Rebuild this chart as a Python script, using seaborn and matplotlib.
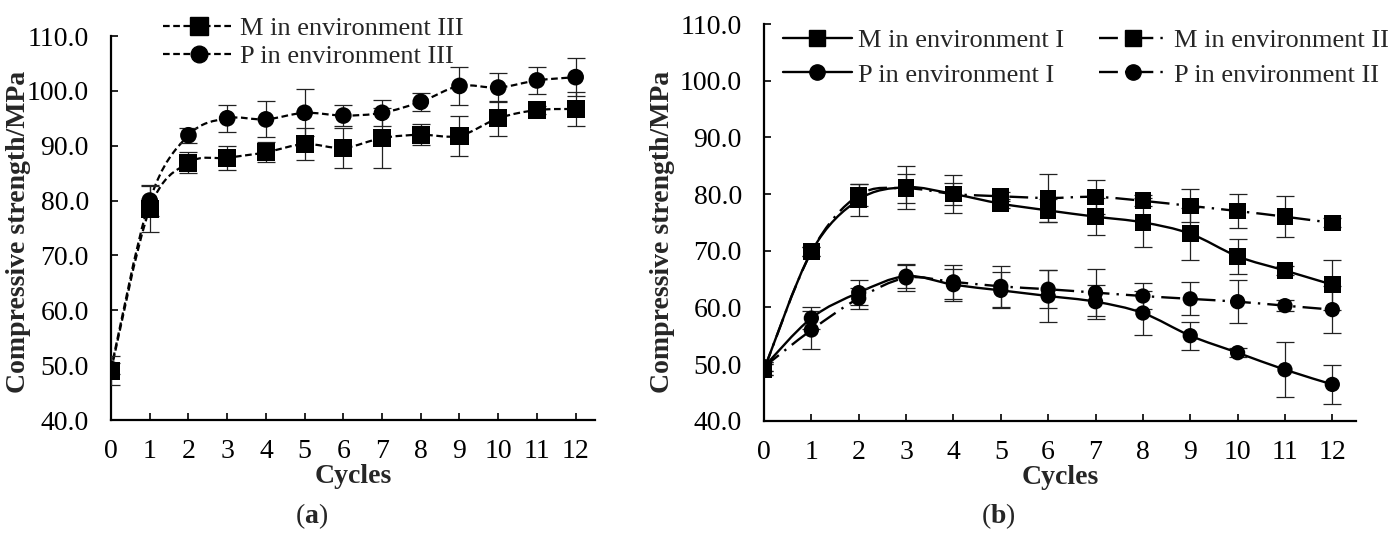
import numpy as np
import matplotlib
matplotlib.use('Agg')
import matplotlib.pyplot as plt
import seaborn as sns
from matplotlib.path import Path
from matplotlib.patches import PathPatch
from matplotlib.lines import Line2D

cycles = list(range(13))

# panel (a): environment III
m3 = [49.0, 78.5, 86.9, 87.8, 88.8, 90.3, 89.6, 91.4, 92.0, 91.8, 95.0, 96.5, 96.7]
m3_err = [2.7, 4.2, 1.9, 2.2, 1.8, 2.9, 3.6, 5.5, 1.9, 3.7, 3.2, 0.8, 3.1]
p3 = [49.3, 80.0, 91.9, 95.0, 94.8, 96.0, 95.5, 96.0, 98.0, 100.9, 100.6, 101.9, 102.5]
p3_err = [1.0, 2.9, 1.4, 2.5, 3.3, 4.3, 1.9, 2.4, 1.7, 3.5, 2.6, 2.5, 3.4]

# panel (b): environments I and II
m1 = [49.0, 69.8, 79.0, 81.2, 80.0, 78.3, 77.1, 76.0, 75.0, 73.0, 69.0, 66.5, 64.0]
m1_err = [1.0, 0.8, 2.8, 3.8, 3.3, 0.8, 2.1, 3.3, 4.3, 4.6, 3.1, 0.8, 4.4]
m2 = [49.0, 69.8, 79.8, 81.0, 80.0, 79.6, 79.3, 79.5, 78.8, 77.9, 77.0, 76.0, 74.9]
m2_err = [1.0, 0.8, 2.0, 2.5, 1.9, 0.8, 4.3, 3.0, 1.0, 2.9, 3.0, 3.6, 0.8]
p1 = [49.5, 58.1, 62.6, 65.5, 64.0, 63.0, 62.0, 61.0, 59.0, 55.0, 52.0, 49.0, 46.4]
p1_err = [0.8, 1.9, 2.2, 2.0, 2.8, 3.2, 4.6, 3.0, 3.8, 2.5, 0.8, 4.9, 3.4]
p2 = [49.5, 56.0, 61.6, 65.2, 64.5, 63.7, 63.2, 62.6, 62.0, 61.5, 61.0, 60.3, 59.6]
p2_err = [0.8, 3.4, 1.9, 2.4, 3.0, 3.6, 3.4, 4.1, 2.3, 2.9, 3.8, 1.0, 4.1]

sns.set_style('ticks')
plt.rcParams['font.family'] = ['Liberation Serif', 'DejaVu Serif']
plt.rcParams['mathtext.fontset'] = 'custom'
plt.rcParams['mathtext.rm'] = 'Liberation Serif'
plt.rcParams['mathtext.bf'] = 'Liberation Serif:bold'

FS = 20       # ticks and axis titles
FS_LEG = 19   # legend entries
DASHED = (0, (3.0, 1.6))
LONG_DASH_DOT = (0, (8, 3, 1, 3))


def smooth_path(xs, ys):
    """Excel-style smoothed line as cubic Bezier segments through the points."""
    pts = np.column_stack([xs, ys]).astype(float)
    n = len(pts)
    verts = [pts[0]]
    codes = [Path.MOVETO]
    for i in range(n - 1):
        p0 = pts[i - 1] if i > 0 else pts[i]
        p1, p2 = pts[i], pts[i + 1]
        p3 = pts[i + 2] if i + 2 < n else pts[i + 1]
        verts += [p1 + (p2 - p0) / 6, p2 - (p3 - p1) / 6, p2]
        codes += [Path.CURVE4] * 3
    return Path(verts, codes)


def draw_series(ax, y, err, marker, ms, ls, lw):
    ax.add_patch(PathPatch(smooth_path(cycles, y), fill=False, edgecolor='black',
                           lw=lw, linestyle=ls, zorder=2, capstyle='butt'))
    ax.errorbar(cycles, y, yerr=err, fmt='none', ecolor='#222222', elinewidth=0.9,
                capsize=6.5, capthick=0.9, zorder=3)
    sns.scatterplot(x=cycles, y=y, marker=marker, s=ms ** 2, color='black',
                    edgecolor='none', linewidth=0, ax=ax, zorder=4, legend=False)


def style_axis(ax, label_xy, cyc_y):
    ax.set_xlim(0, 12.5)
    ax.set_ylim(40, 110)
    ax.set_xticks(cycles)
    ax.set_yticks(np.arange(40, 111, 10))
    ax.set_yticklabels([f'{v:.1f}' for v in np.arange(40, 111, 10)])
    ax.tick_params(direction='in', length=5, width=1.2, labelsize=FS, colors='black')
    ax.tick_params(axis='y', pad=16)
    ax.tick_params(axis='x', pad=14)
    for side in ['top', 'right']:
        ax.spines[side].set_visible(False)
    for side in ['left', 'bottom']:
        ax.spines[side].set_linewidth(1.6)
        ax.spines[side].set_color('black')
    ax.set_xlabel('Cycles', fontsize=FS, fontweight='bold')
    ax.set_ylabel('Compressive strength/MPa', fontsize=FS, fontweight='bold')
    ax.xaxis.label.set_va('center')
    ax.yaxis.label.set_va('center')
    ax.xaxis.set_label_coords(0.5, cyc_y)
    ax.yaxis.set_label_coords(*label_xy)


fig = plt.figure(figsize=(13.91, 5.33), dpi=100)
ax_a = fig.add_axes([111 / 1391, 1 - 420 / 533, 484 / 1391, 384 / 533])
ax_b = fig.add_axes([764 / 1391, 1 - 420.7 / 533, 592 / 1391, 396.7 / 533])

# panel (a)
draw_series(ax_a, m3, m3_err, 's', 13, DASHED, 1.6)
draw_series(ax_a, p3, p3_err, 'o', 12, DASHED, 1.6)
style_axis(ax_a, (-0.192, 0.49), -0.148)

handles_a = [
    Line2D([], [], color='black', lw=1.6, ls=DASHED, marker='s', ms=13),
    Line2D([], [], color='black', lw=1.6, ls=DASHED, marker='o', ms=12),
]
ax_a.legend(handles_a, ['M in environment III', 'P in environment III'],
            loc='upper left', bbox_to_anchor=(163 / 1391, 1 - 17 / 533),
            bbox_transform=fig.transFigure, frameon=False, fontsize=FS_LEG,
            borderpad=0, borderaxespad=0, handlelength=2.7, handletextpad=0.2,
            labelspacing=0.15)

# panel (b)
draw_series(ax_b, m1, m1_err, 's', 12, '-', 1.7)
draw_series(ax_b, m2, m2_err, 's', 12, LONG_DASH_DOT, 1.7)
draw_series(ax_b, p1, p1_err, 'o', 11, '-', 1.7)
draw_series(ax_b, p2, p2_err, 'o', 11, LONG_DASH_DOT, 1.7)
style_axis(ax_b, (-0.172, 0.475), -0.143)

handles_b = [
    Line2D([], [], color='black', lw=1.7, ls='-', marker='s', ms=12),
    Line2D([], [], color='black', lw=1.7, ls='-', marker='o', ms=11),
    Line2D([], [], color='black', lw=1.7, ls=LONG_DASH_DOT, marker='s', ms=12),
    Line2D([], [], color='black', lw=1.7, ls=LONG_DASH_DOT, marker='o', ms=11),
]
ax_b.legend(handles_b, ['M in environment I', 'P in environment I',
                        'M in environment II', 'P in environment II'],
            ncol=2, loc='upper left', bbox_to_anchor=(783 / 1391, 1 - 29 / 533),
            bbox_transform=fig.transFigure, frameon=False, fontsize=FS_LEG,
            borderpad=0, borderaxespad=0, handlelength=2.6, handletextpad=0.25,
            labelspacing=0.4, columnspacing=1.3)

fig.text(312 / 1391, 1 - 516 / 533, r'($\mathbf{a}$)', ha='center', va='center', fontsize=FS)
fig.text(998 / 1391, 1 - 516 / 533, r'($\mathbf{b}$)', ha='center', va='center', fontsize=FS)

fig.savefig('out.png', dpi=100)
plt.close(fig)
